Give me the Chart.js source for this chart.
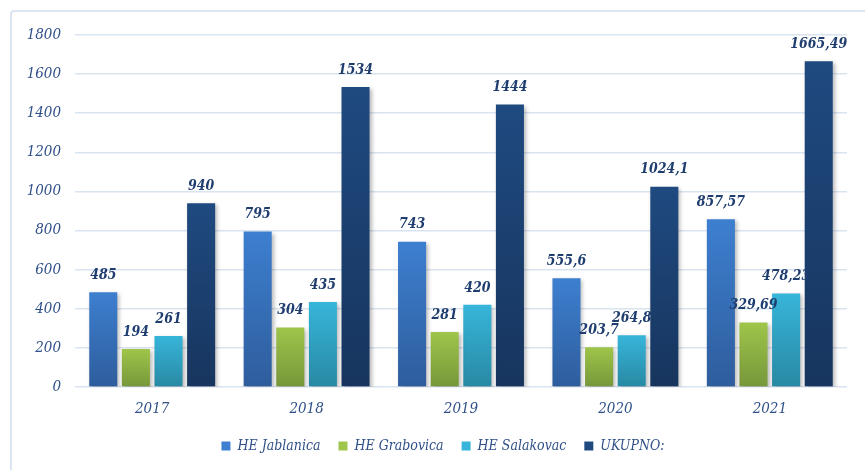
<!DOCTYPE html>
<html>
<head>
<meta charset="utf-8">
<script src="https://cdn.jsdelivr.net/npm/chart.js@4.4.1/dist/chart.umd.min.js"></script>
<style>
  html, body { margin: 0; padding: 0; background: #fff; }
  #wrap { position: relative; width: 865px; height: 470px; overflow: hidden; }
  #frame {
    position: absolute; left: 10px; top: 10px; width: 880px; height: 480px;
    border: 2px solid #dce6f2; border-radius: 4px; box-sizing: border-box;
  }
  canvas { position: absolute; left: 0; top: 0; }
</style>
</head>
<body>
<div id="wrap">
  <div id="frame"></div>
  <canvas id="proizvodnja" width="865" height="470"></canvas>
</div>
<script>
const godine = ['2017', '2018', '2019', '2020', '2021']
const jablanica = [485, 795, 743, 555.6, 857.57]
const grabovica = [194, 304, 281, 203.7, 329.69]
const salakovac = [261, 435, 420, 264.8, 478.23]
const ukupno = [940, 1534, 1444, 1024.1, 1665.49]

const serif = "'DejaVu Serif Condensed', 'DejaVu Serif', serif"

// boja vrha i dna stupca za svaku seriju
const boje = [
    ['#3d7fd0', '#2e5d9c'],
    ['#9fc54a', '#76973a'],
    ['#37b5da', '#2889a3'],
    ['#1f4a80', '#17355e']
]

function gradijent(i) {
    return function (ctx) {
        const chart = ctx.chart
        const y = chart.scales.y
        if (!chart.chartArea || !y || ctx.type !== 'data') return boje[i][0]
        const top = y.getPixelForValue(ctx.raw)
        const bottom = y.getPixelForValue(0)
        const g = chart.ctx.createLinearGradient(0, top, 0, bottom)
        g.addColorStop(0, boje[i][0])
        g.addColorStop(1, boje[i][1])
        return g
    }
}

function oznaka(v) {
    return String(v).replace('.', ',')
}

const sjenaPlugin = {
    id: 'sjena',
    beforeDatasetsDraw(chart) {
        const c = chart.ctx
        c.save()
        c.shadowColor = 'rgba(0,0,0,0.28)'
        c.shadowBlur = 4
        c.shadowOffsetX = 2
        c.shadowOffsetY = 2
    },
    afterDatasetsDraw(chart) {
        chart.ctx.restore()
        const c = chart.ctx
        c.save()
        c.font = "italic bold 14px " + serif
        c.fillStyle = '#1f3e6f'
        c.textAlign = 'center'
        c.textBaseline = 'bottom'
        chart.data.datasets.forEach((ds, i) => {
            const meta = chart.getDatasetMeta(i)
            meta.data.forEach((bar, j) => {
                c.fillText(oznaka(ds.data[j]), bar.x, bar.y - 10)
            })
        })
        c.restore()
    }
}

const dadosProizvodnja = {
    labels: godine,
    datasets: [
        { label: 'HE Jablanica', data: jablanica, backgroundColor: gradijent(0) },
        { label: 'HE Grabovica', data: grabovica, backgroundColor: gradijent(1) },
        { label: 'HE Salakovac', data: salakovac, backgroundColor: gradijent(2) },
        { label: 'UKUPNO:', data: ukupno, backgroundColor: gradijent(3) }
    ]
}

const graficoProizvodnja = {
    type: 'bar',
    data: dadosProizvodnja,
    plugins: [sjenaPlugin],
    options: {
        responsive: false,
        animation: false,
        categoryPercentage: 0.845,
        barPercentage: 0.86,
        layout: { padding: { top: 35, right: 0, bottom: 7, left: 21 } },
        plugins: {
            tooltip: { enabled: false },
            legend: {
                position: 'bottom',
                labels: {
                    boxWidth: 9,
                    boxHeight: 9,
                    padding: 18,
                    color: '#2f5088',
                    font: { family: serif, size: 14, style: 'italic' },
                    generateLabels(chart) {
                        return chart.data.datasets.map((ds, i) => ({
                            text: ds.label,
                            fillStyle: boje[i][0],
                            strokeStyle: boje[i][0],
                            lineWidth: 0,
                            fontColor: '#2f5088',
                            datasetIndex: i
                        }))
                    }
                }
            }
        },
        scales: {
            x: {
                afterFit(scale) { scale.height = 34 },
                grid: { display: false, drawTicks: false },
                border: { display: false },
                ticks: {
                    padding: 13,
                    color: '#2f5088',
                    font: { family: serif, size: 15, style: 'italic' }
                }
            },
            y: {
                min: 0,
                max: 1800,
                afterFit(scale) { scale.width = 54 },
                grid: { color: '#d9e4f1', lineWidth: 1.5, drawTicks: false },
                border: { display: false },
                ticks: {
                    stepSize: 200,
                    padding: 14,
                    color: '#2f5088',
                    font: { family: serif, size: 15, style: 'italic' },
                    callback: v => String(v)
                }
            },
            // prazan desni rub uz mrežu
            desno: {
                position: 'right',
                afterFit(scale) { scale.width = 18 },
                grid: { display: false },
                border: { display: false },
                ticks: { display: false }
            }
        }
    }
}

const myChart = new Chart(
    document.getElementById('proizvodnja'),
    graficoProizvodnja
)
</script>
</body>
</html>
